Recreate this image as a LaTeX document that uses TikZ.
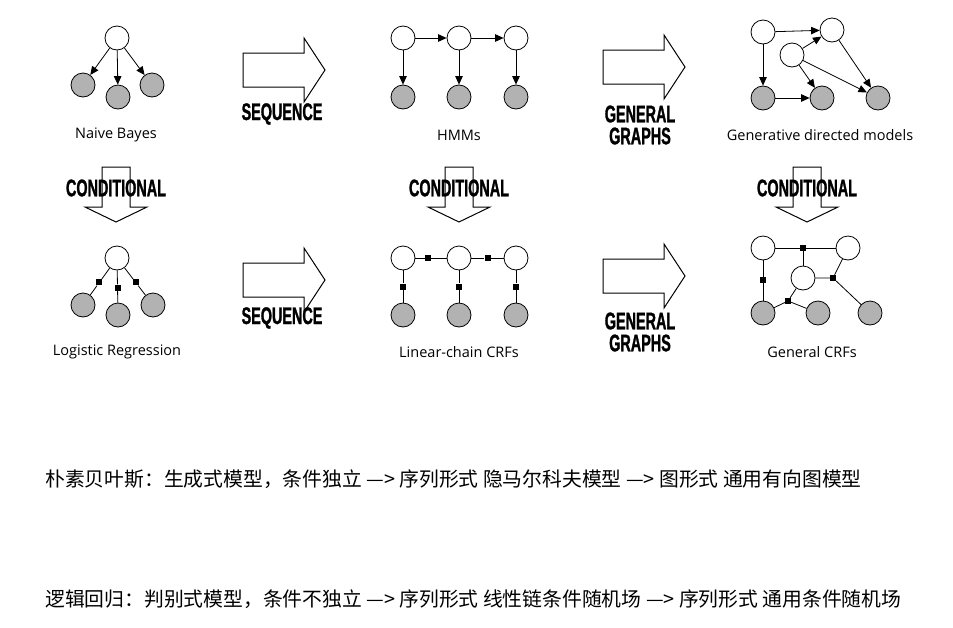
\documentclass[tikz,border=0pt]{standalone}
\usepackage{fontspec}
\usepackage{tikz}
\usetikzlibrary{calc,arrows.meta}
\setmainfont{Open Sans}
\newfontfamily\cjk{Noto Sans CJK SC}
\newfontfamily\bannerfont{Liberation Sans}[FakeStretch=0.6,FakeBold=1.2]

\begin{document}
\begin{tikzpicture}[x=1pt,y=-1pt,
  latent/.style={circle,draw,fill=white,minimum size=24pt,inner sep=0pt,line width=0.8pt},
  observed/.style={latent,fill=black!30},
  factor/.style={rectangle,fill=black,minimum size=6pt,inner sep=0pt},
  edge/.style={line width=0.8pt,-{Triangle[length=8.5pt,width=7.5pt]}},
  link/.style={line width=0.8pt},
  blockarrow/.style={draw,line width=1pt,fill=white,line join=miter},
  banner/.style={font=\bannerfont\bfseries\fontsize{24}{22}\selectfont,align=center,inner sep=0pt},
  caption/.style={font=\fontsize{14.5}{16}\selectfont,inner sep=0pt},
  zh/.style={font=\cjk\fontsize{19.8}{22}\selectfont,anchor=west,inner sep=0pt}]
\fill[white] (0,0) rectangle (953,627);
\useasboundingbox (0,0) rectangle (953,627);

% big arrows between the models
\foreach \x/\y in {243/70,603/67,243/280,603/276}
  \draw[blockarrow] (\x,\y-17) -- (\x+61,\y-17) -- (\x+61,\y-32) -- (\x+82,\y)
    -- (\x+61,\y+32) -- (\x+61,\y+17) -- (\x,\y+17) -- cycle;
\foreach \x in {116,459,807}
  \draw[blockarrow] (\x-14,167) -- (\x+14,167) -- (\x+14,207) -- (\x+31,207)
    -- (\x,222) -- (\x-31,207) -- (\x-14,207) -- cycle;
\node[banner] (seq1) at (282,114) {SEQUENCE};
\node[banner] (seq2) at (282,318) {SEQUENCE};
\node[banner] (gen1) at (640,125) {GENERAL\\GRAPHS};
\node[banner] (gen2) at (640,332) {GENERAL\\GRAPHS};
\node[banner] (cond1) at (116,188) {CONDITIONAL};
\node[banner] (cond2) at (459,188) {CONDITIONAL};
\node[banner] (cond3) at (807,188) {CONDITIONAL};

% Naive Bayes
\node[latent] (nb) at (117,38) {};
\node[observed] (nb1) at (83,85) {};
\node[observed] (nb2) at (118,97) {};
\node[observed] (nb3) at (152,85) {};
\foreach \i in {1,2,3}
  \draw[edge] (nb) -- (nb\i);
\node[caption] (nbl) at (116,135) {Naive Bayes};

% HMMs
\foreach \i/\x in {1/403,2/459,3/516} {
  \node[latent] (h\i) at (\x,38) {};
  \node[observed] (o\i) at (\x,97) {};
  \draw[edge] (h\i) -- (o\i);
}
\draw[edge] (h1) -- (h2);
\draw[edge] (h2) -- (h3);
\node[caption] (hmml) at (459,135) {HMMs};

% generative directed models
\node[latent] (ga) at (763,32) {};
\node[latent] (gb) at (832,30) {};
\node[latent] (gc) at (792,55) {};
\node[observed] (gd) at (763,98) {};
\node[observed] (ge) at (822,98) {};
\node[observed] (gf) at (878,98) {};
\draw[edge] (ga) -- (gb);
\draw[edge] (ga) -- (gd);
\draw[edge] (gc) -- (gb);
\draw[edge] (gc) -- (ge);
\draw[edge] (gc) -- (gf);
\draw[edge] (gb) -- (gf);
\draw[edge] (gd) -- (ge);
\node[caption] (gdl) at (820,135) {Generative directed models};

% Logistic Regression
\node[latent] (lr) at (117,258) {};
\node[observed] (lr1) at (83,305) {};
\node[observed] (lr2) at (118,315) {};
\node[observed] (lr3) at (153,305) {};
\foreach \i in {1,2,3} {
  \node[factor] (lf\i) at ($(lr)!0.52!(lr\i)$) {};
  \draw[link] (lr) -- (lf\i) -- (lr\i);
}
\node[caption] (lrl) at (117,352) {Logistic Regression};

% Linear-chain CRFs
\foreach \i/\x in {1/403,2/459,3/516} {
  \node[latent] (ch\i) at (\x,258) {};
  \node[observed] (co\i) at (\x,315) {};
  \node[factor] (cv\i) at ($(ch\i)!0.5!(co\i)$) {};
  \draw[link] (ch\i) -- (cv\i) -- (co\i);
}
\node[factor] (cf1) at ($(ch1)!0.45!(ch2)$) {};
\node[factor] (cf2) at ($(ch2)!0.5!(ch3)$) {};
\draw[link] (ch1) -- (cf1) -- (ch2) -- (cf2) -- (ch3);
\node[caption] (lcl) at (459,352) {Linear-chain CRFs};

% General CRFs
\node[latent] (ra) at (763,248) {};
\node[latent] (rb) at (848,248) {};
\node[latent] (rc) at (803,278) {};
\node[observed] (rd) at (763,313) {};
\node[observed] (re) at (818,313) {};
\node[observed] (rf) at (870,313) {};
\node[factor] (rf1) at (803,248) {};
\node[factor] (rf2) at (763,280) {};
\node[factor] (rf3) at (833,278) {};
\node[factor] (rf4) at (788,301) {};
\draw[link] (ra) -- (rf1) -- (rb);
\draw[link] (rf1) -- (rc);
\draw[link] (ra) -- (rf2) -- (rd);
\draw[link] (rc) -- (rf3) -- (rb);
\draw[link] (rf3) -- (rf);
\draw[link] (rd) -- (rf4) -- (rc);
\draw[link] (rf4) -- (re);
\node[caption] (gcl) at (812,352) {General CRFs};

% text below
\node[zh] (zh1) at (45,479) {朴素贝叶斯：生成式模型，条件独立 —> 序列形式 隐马尔科夫模型 —> 图形式 通用有向图模型};
\node[zh] (zh2) at (45,599) {逻辑回归：判别式模型，条件不独立 —> 序列形式 线性链条件随机场 —> 序列形式 通用条件随机场};
\end{tikzpicture}
\end{document}
